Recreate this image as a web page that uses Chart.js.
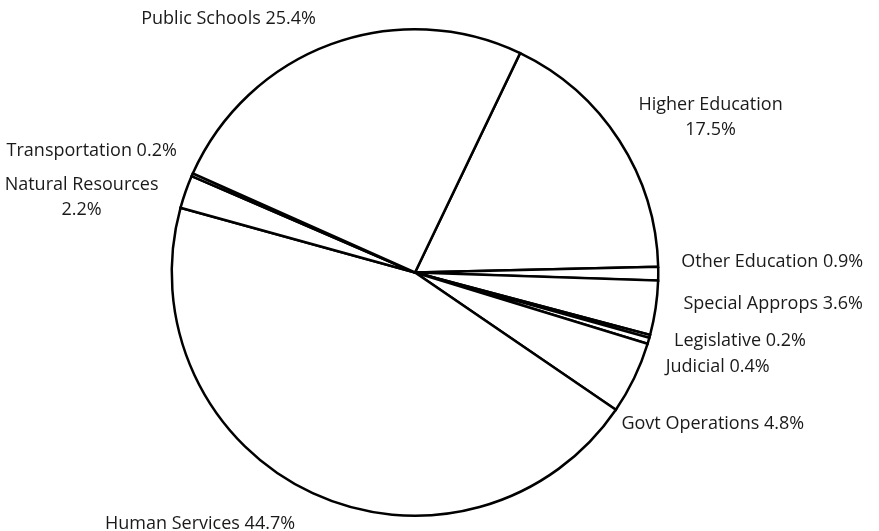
<!DOCTYPE html>
<html>
<head>
<meta charset="utf-8">
<script src="https://cdn.jsdelivr.net/npm/chart.js@4/dist/chart.umd.min.js"></script>
<style>
  html, body { margin: 0; padding: 0; background: #ffffff; }
  #wrap { width: 879px; height: 531px; position: relative; }
</style>
</head>
<body>
<div id="wrap"><canvas id="pie"></canvas></div>
<script>
// Budget shares by area (percent), clockwise from Higher Education
const categories = [
  'Higher Education', 'Other Education', 'Special Approps', 'Legislative', 'Judicial',
  'Govt Operations', 'Human Services', 'Natural Resources', 'Transportation', 'Public Schools'
];
const shares = [17.5, 0.9, 3.6, 0.2, 0.4, 4.8, 44.7, 2.2, 0.2, 25.4];

// Names whose label is split onto two lines
const twoLineNames = ['Higher Education', 'Natural Resources'];

// Hand-placed label nudges (px) relative to the point just outside each slice
const labelNudge = [
  [4, -13], [5, -12], [10, -7], [7, 0], [0, 21],
  [-29, 38], [-10, 14], [-10, 12], [1, -17], [-9, -8]
];

const LABEL_FONT = '18px "Open Sans"';
const LABEL_COLOR = '#1a1a1a';
const LINE_H = 25;

const outsideLabels = {
  id: 'outsideLabels',
  afterDatasetsDraw(chart) {
    const ctx = chart.ctx;
    const meta = chart.getDatasetMeta(0);
    ctx.save();
    ctx.font = LABEL_FONT;
    ctx.fillStyle = LABEL_COLOR;
    ctx.textBaseline = 'middle';
    meta.data.forEach((arc, i) => {
      const mid = (arc.startAngle + arc.endAngle) / 2;
      const r = arc.outerRadius + 18;
      const ax = arc.x + r * Math.cos(mid) + labelNudge[i][0];
      const ay = arc.y + r * Math.sin(mid) + labelNudge[i][1];
      const pct = shares[i].toFixed(1) + '%';
      const lines = twoLineNames.includes(categories[i])
        ? [categories[i], pct]
        : [categories[i] + ' ' + pct];
      const w = Math.max(...lines.map(t => ctx.measureText(t).width));
      const rightSide = Math.cos(mid) >= 0;
      const left = rightSide ? ax : ax - w;
      const top = ay - (lines.length - 1) * LINE_H / 2;
      ctx.textAlign = 'center';
      lines.forEach((t, k) => ctx.fillText(t, left + w / 2, top + k * LINE_H));
    });
    ctx.restore();
  }
};

new Chart(document.getElementById('pie'), {
  type: 'pie',
  data: {
    labels: categories,
    datasets: [{
      data: shares,
      backgroundColor: '#ffffff',
      borderColor: '#000000',
      borderWidth: 2.5,
      borderJoinStyle: 'miter'
    }]
  },
  options: {
    responsive: true,
    maintainAspectRatio: false,
    animation: false,
    rotation: 25.6,
    layout: { padding: { top: 28, bottom: 14, left: 0, right: 49 } },
    plugins: {
      legend: { display: false },
      tooltip: { enabled: false }
    }
  },
  plugins: [outsideLabels]
});
</script>
</body>
</html>
